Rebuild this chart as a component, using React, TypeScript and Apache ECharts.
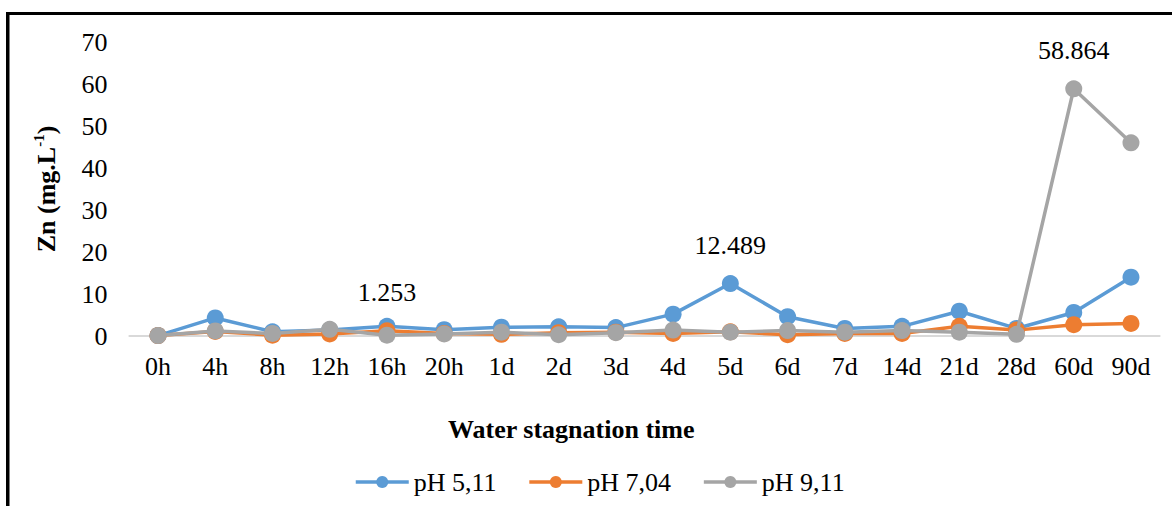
import React, { useEffect, useRef } from 'react';
import * as echarts from 'echarts';

// Water stagnation time steps
const times = ['0h', '4h', '8h', '12h', '16h', '20h', '1d', '2d', '3d', '4d', '5d', '6d', '7d', '14d', '21d', '28d', '60d', '90d'];

// Zn concentration (mg/L) per pH
const ph511 = [0.1, 4.3, 1.0, 1.4, 2.3, 1.5, 2.1, 2.2, 2.0, 5.2, 12.489, 4.6, 1.8, 2.3, 5.9, 1.8, 5.6, 14.0];
const ph704 = [0.1, 1.1, 0.2, 0.5, 1.253, 0.6, 0.4, 0.8, 0.9, 0.6, 1.0, 0.3, 0.6, 0.6, 2.3, 1.4, 2.7, 3.0];
const ph911 = [0.1, 1.2, 0.6, 1.6, 0.2, 0.5, 0.9, 0.3, 0.8, 1.4, 0.9, 1.3, 0.9, 1.3, 0.9, 0.4, 58.864, 46.0];

const seriesNames = ['pH 5,11', 'pH 7,04', 'pH 9,11'];
const seriesColors = ['#5B9BD5', '#ED7D31', '#A5A5A5'];
// index of the one point that carries a value label, per series
const labelAt = [10, 4, 16];

const FONT = 'Liberation Serif';

const App: React.FC = () => {
  const chartRef = useRef<HTMLDivElement>(null);

  useEffect(() => {
    if (!chartRef.current) return;
    const chart = echarts.init(chartRef.current, undefined, { renderer: 'svg' });

    const values = [ph511, ph704, ph911];

    const option: echarts.EChartsOption = {
      animation: false,
      textStyle: { fontFamily: FONT },
      grid: { left: 129.4, right: 12.4, top: 42, bottom: 170, containLabel: false },
      legend: {
        left: 349,
        top: 464,
        itemWidth: 53,
        itemHeight: 15,
        itemGap: 31,
        lineStyle: { width: 3.5 },
        textStyle: { fontFamily: FONT, fontSize: 26, color: '#000' },
        data: seriesNames,
      },
      xAxis: {
        type: 'category',
        data: times,
        boundaryGap: true,
        axisLine: { lineStyle: { color: '#d9d9d9', width: 2 } },
        axisTick: { show: false },
        axisLabel: { interval: 0, margin: 17, fontFamily: FONT, fontSize: 26, color: '#000' },
      },
      yAxis: {
        type: 'value',
        min: 0,
        max: 70,
        interval: 10,
        splitLine: { show: false },
        axisLine: { show: false },
        axisTick: { show: false },
        axisLabel: { margin: 22, fontFamily: FONT, fontSize: 26, color: '#000' },
        name: '{b|Zn (mg.L}{s|-1}{b|)}',
        nameLocation: 'middle',
        nameRotate: 90,
        nameGap: 68,
        nameTextStyle: {
          rich: {
            b: { fontFamily: FONT, fontSize: 26, fontWeight: 'bold', color: '#000', lineHeight: 30 },
            s: { fontFamily: FONT, fontSize: 15, fontWeight: 'bold', color: '#000', verticalAlign: 'top', lineHeight: 30 },
          },
        },
      },
      series: values.map((vals, si) => ({
        name: seriesNames[si],
        type: 'line',
        symbol: 'circle',
        symbolSize: 17,
        color: seriesColors[si],
        lineStyle: { width: 3.5, color: seriesColors[si] },
        itemStyle: { color: seriesColors[si] },
        z: 2 + si,
        data: vals.map((v, i) =>
          i === labelAt[si]
            ? {
                value: v,
                label: {
                  show: true,
                  position: 'top',
                  distance: 17,
                  fontFamily: FONT,
                  fontSize: 26,
                  color: '#000',
                },
              }
            : v
        ),
      })),
      graphic: [
        {
          type: 'text',
          left: 448,
          top: 416,
          style: {
            text: 'Water stagnation time',
            font: `bold 26px ${FONT}`,
            fill: '#000',
          },
        },
        { type: 'rect', shape: { x: 6, y: 12, width: 1170, height: 3 }, style: { fill: '#000' } },
        { type: 'rect', shape: { x: 6, y: 12, width: 3.5, height: 500 }, style: { fill: '#000' } },
      ],
    };

    chart.setOption(option as any);

    return () => {
      chart.dispose();
    };
  }, []);

  return (
    <div
      ref={chartRef}
      style={{ position: 'fixed', left: 0, top: 0, width: '1172px', height: '506px', background: '#fff' }}
    />
  );
};

export default App;
